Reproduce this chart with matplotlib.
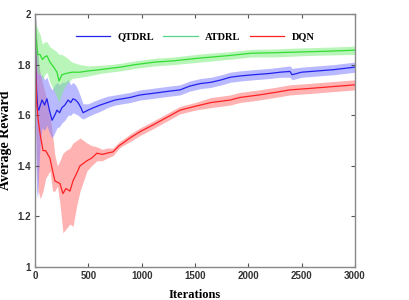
import numpy as np
import matplotlib
matplotlib.use("Agg")
import matplotlib.pyplot as plt

# QTDRL
qt_iter = [0, 8, 15, 25, 35, 50, 66, 90, 112, 135, 160, 185, 206, 230, 253, 280, 310, 335, 356, 380, 403, 430,
           450, 475, 497, 550, 610, 680, 750, 820, 890, 985, 1080, 1170, 1260, 1360, 1450, 1550, 1650, 1750,
           1830, 1920, 2050, 2200, 2300, 2390, 2410, 2500, 2650, 2800, 2900, 3000]
qt_mean = [1.97, 1.80, 1.70, 1.63, 1.62, 1.64, 1.66, 1.64, 1.665, 1.62, 1.58, 1.60, 1.62, 1.61, 1.63, 1.64, 1.66,
           1.65, 1.665, 1.66, 1.65, 1.63, 1.61, 1.615, 1.62, 1.63, 1.64, 1.65, 1.66, 1.665, 1.67, 1.68, 1.685,
           1.69, 1.695, 1.70, 1.715, 1.725, 1.73, 1.74, 1.75, 1.755, 1.76, 1.765, 1.77, 1.773, 1.76, 1.77, 1.775,
           1.78, 1.785, 1.79]
qt_low = [1.85, 1.45, 1.30, 1.27, 1.38, 1.50, 1.55, 1.54, 1.56, 1.53, 1.51, 1.53, 1.55, 1.555, 1.57, 1.58, 1.60,
          1.60, 1.61, 1.605, 1.60, 1.59, 1.585, 1.59, 1.595, 1.605, 1.615, 1.63, 1.64, 1.645, 1.65, 1.66, 1.665,
          1.67, 1.675, 1.68, 1.695, 1.705, 1.71, 1.72, 1.73, 1.735, 1.74, 1.745, 1.75, 1.75, 1.74, 1.75, 1.755,
          1.76, 1.765, 1.77]
qt_up = [2.0, 1.98, 1.92, 1.85, 1.80, 1.76, 1.76, 1.74, 1.75, 1.72, 1.70, 1.72, 1.73, 1.72, 1.73, 1.73, 1.74,
         1.72, 1.73, 1.72, 1.70, 1.67, 1.645, 1.645, 1.645, 1.655, 1.665, 1.675, 1.68, 1.685, 1.69, 1.70, 1.705,
         1.71, 1.715, 1.72, 1.735, 1.745, 1.75, 1.76, 1.77, 1.775, 1.78, 1.785, 1.79, 1.795, 1.785, 1.79, 1.795,
         1.80, 1.805, 1.81]

# ATDRL
at_iter = [0, 10, 25, 47, 70, 90, 112, 140, 175, 206, 225, 253, 290, 347, 420, 500, 610, 700, 800, 940, 1125,
           1300, 1550, 1800, 2030, 2250, 2500, 2750, 3000]
at_mean = [1.98, 1.90, 1.84, 1.84, 1.82, 1.83, 1.835, 1.81, 1.79, 1.77, 1.735, 1.76, 1.765, 1.77, 1.77, 1.775,
           1.78, 1.785, 1.79, 1.80, 1.81, 1.815, 1.826, 1.835, 1.845, 1.847, 1.85, 1.853, 1.857]
at_low = [1.90, 1.80, 1.76, 1.77, 1.74, 1.76, 1.77, 1.73, 1.70, 1.67, 1.65, 1.69, 1.72, 1.745, 1.75, 1.755,
          1.765, 1.77, 1.775, 1.785, 1.795, 1.80, 1.81, 1.82, 1.83, 1.83, 1.835, 1.838, 1.84]
at_up = [2.0, 1.96, 1.94, 1.92, 1.88, 1.89, 1.89, 1.87, 1.86, 1.85, 1.84, 1.84, 1.83, 1.81, 1.80, 1.795,
         1.797, 1.80, 1.805, 1.815, 1.825, 1.83, 1.842, 1.85, 1.86, 1.862, 1.866, 1.869, 1.873]

# DQN
dq_iter = [0, 8, 15, 30, 50, 75, 100, 140, 165, 187, 210, 234, 262, 290, 328, 356, 390, 422, 455, 487, 530,
           581, 630, 675, 731, 790, 825, 890, 985, 1100, 1230, 1360, 1500, 1650, 1830, 1920, 2100, 2250, 2390,
           2550, 2700, 2850, 3000]
dq_mean = [1.97, 1.75, 1.65, 1.58, 1.52, 1.46, 1.46, 1.43, 1.38, 1.34, 1.335, 1.33, 1.29, 1.31, 1.30, 1.34,
           1.37, 1.40, 1.41, 1.42, 1.43, 1.45, 1.445, 1.45, 1.455, 1.48, 1.49, 1.51, 1.535, 1.56, 1.59, 1.62,
           1.635, 1.65, 1.66, 1.67, 1.68, 1.69, 1.70, 1.705, 1.71, 1.715, 1.72]
dq_low = [1.90, 1.55, 1.40, 1.30, 1.27, 1.30, 1.35, 1.38, 1.30, 1.30, 1.32, 1.25, 1.135, 1.15, 1.17, 1.16,
          1.24, 1.30, 1.34, 1.38, 1.40, 1.42, 1.42, 1.43, 1.44, 1.47, 1.48, 1.495, 1.52, 1.545, 1.575, 1.605,
          1.62, 1.63, 1.64, 1.65, 1.66, 1.67, 1.68, 1.685, 1.69, 1.695, 1.70]
dq_up = [2.0, 1.97, 1.92, 1.82, 1.76, 1.72, 1.68, 1.60, 1.52, 1.44, 1.40, 1.42, 1.45, 1.46, 1.47, 1.49,
         1.50, 1.51, 1.50, 1.49, 1.48, 1.475, 1.465, 1.47, 1.47, 1.495, 1.505, 1.525, 1.55, 1.575, 1.605,
         1.635, 1.65, 1.67, 1.68, 1.69, 1.70, 1.71, 1.72, 1.725, 1.73, 1.735, 1.74]

fig = plt.figure(figsize=(4.09, 3.0), dpi=100)
ax = fig.add_axes([35 / 409, 33 / 300, 320 / 409, 253 / 300])

ax.fill_between(dq_iter, dq_low, dq_up, color="#ff8080", alpha=0.6, linewidth=0)
ax.fill_between(qt_iter, qt_low, qt_up, color="#8080ff", alpha=0.55, linewidth=0)
ax.fill_between(at_iter, at_low, at_up, color="#80ee80", alpha=0.55, linewidth=0)

ax.plot(qt_iter, qt_mean, color="#2222ee", lw=0.9, label="QTDRL")
ax.plot(at_iter, at_mean, color="#33dd33", lw=0.9, label="ATDRL")
ax.plot(dq_iter, dq_mean, color="#ff2222", lw=0.9, label="DQN")

ax.set_xlim(0, 3000)
ax.set_ylim(1, 2)
ax.set_xticks(np.arange(0, 3001, 500))
ax.set_yticks([1, 1.2, 1.4, 1.6, 1.8, 2])
ax.set_yticklabels(["1", "1.2", "1.4", "1.6", "1.8", "2"])
ax.tick_params(direction="in", top=True, right=True, length=3, width=0.8, color="#555555",
               labelsize=7, pad=3)
for lab in ax.get_xticklabels() + ax.get_yticklabels():
    lab.set_fontweight("bold")
    lab.set_family(["Liberation Sans Narrow", "Liberation Sans"])
    lab.set_color("#333333")
for s in ax.spines.values():
    s.set_color("#888888")
    s.set_linewidth(1.0)

ax.set_xlabel("Iterations", family="Liberation Serif", fontweight="bold", fontsize=9)
ax.set_ylabel("Average Reward", family="Liberation Serif", fontweight="bold", fontsize=10)
ax.xaxis.set_label_coords(0.5, -0.085)
ax.yaxis.set_label_coords(-0.072, 0.5)

leg = ax.legend(loc="upper center", bbox_to_anchor=(0.5, 0.965), ncol=3, frameon=False,
                prop={"family": "Liberation Serif", "weight": "bold", "size": 7.5},
                handlelength=3.3, columnspacing=0.9, handletextpad=0.7)
leg.get_lines()[1].set_color("#55d58a")

fig.savefig("out.png", dpi=100)
